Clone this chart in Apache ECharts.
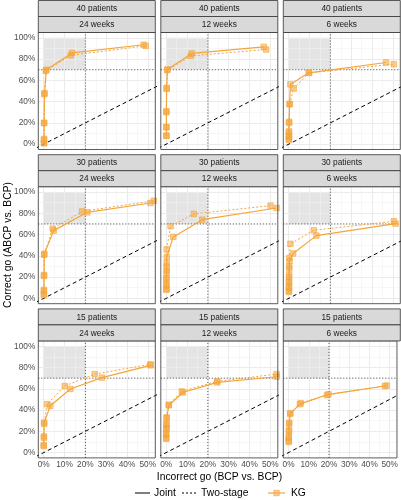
<!DOCTYPE html>
<html><head><meta charset="utf-8">
<script src="https://cdn.jsdelivr.net/npm/echarts@6/dist/echarts.min.js"></script>
<style>html,body{margin:0;padding:0;background:#fff}#c{width:401px;height:500px}</style>
</head><body><div id="c"></div>
<script>
const rowLabels = ['40 patients', '30 patients', '15 patients'];
const colLabels = ['24 weeks', '12 weeks', '6 weeks'];
const xTicks = [0, 10, 20, 30, 40, 50];
const yTicks = [0, 20, 40, 60, 80, 100];
const xMinor = [5, 15, 25, 35, 45];
const yMinor = [10, 30, 50, 70, 90];
const goRegion = [[0, 70], [20, 100]];
const refX = 20, refY = 70;
const diag = [[-10, -10], [110, 110]];

// [incorrect go %, correct go %]
const joint_40_24 = [[0.2,1],[0.2,5],[0.2,20],[0.4,48],[1.3,70],[13.6,85.8],[48,93.5]];
const two_40_24   = [[0.1,1],[0.1,4],[0.2,20],[0.3,47],[1.0,69],[13.0,83.5],[49,92.5]];
const joint_40_12 = [[0.1,8],[0.1,16],[0.1,31],[0.2,53],[0.6,70.3],[12.2,85.3],[46.9,91.5]];
const two_40_12   = [[0.1,8],[0.1,16],[0.1,30],[0.2,52],[0.5,69.5],[11.8,83],[48,89]];
const joint_40_6  = [[0.1,5],[0.1,8],[0.1,12],[0.2,21],[0.4,37.5],[0.8,56.2],[9.6,67.1],[46.8,76.8]];
const two_40_6    = [[0.1,4],[0.1,7],[0.1,11],[0.2,20],[0.5,38],[2.4,52.5],[9.8,67],[50.5,75.2]];
const joint_30_24 = [[0.1,3],[0.1,8],[0.2,22],[0.3,42],[4.8,63.7],[20.9,80.9],[51.3,89.7]];
const two_30_24   = [[0.1,4],[0.1,7],[0.1,21],[0.2,41],[4.3,65.6],[18.5,81.8],[52.9,91.8]];
const joint_30_12 = [[0.1,8],[0.1,12],[0.1,18],[0.2,24],[0.2,30],[0.3,39],[3.4,57.8],[17.3,74],[53,85]];
const two_30_12   = [[0.1,9],[0.1,13],[0.1,19],[0.2,26],[0.2,33],[0.2,46],[2.1,67.8],[13.3,79.4],[50.1,87.2]];
const joint_30_6  = [[0.1,6],[0.1,10],[0.2,15],[0.2,20],[0.3,28],[0.4,35],[2.1,42.2],[13.3,59],[51.3,70.3]];
const two_30_6    = [[0.1,7],[0.1,11],[0.1,16],[0.2,22],[0.2,30],[0.3,38],[0.8,51.3],[12,64],[50.5,72.5]];
const joint_15_24 = [[0,7],[0.1,15.2],[0.2,28.3],[3.2,44],[12.8,59.8],[28,70.5],[51.3,82]];
const two_15_24   = [[0,6],[0.1,14],[0.2,27],[1.6,45.5],[10.1,62.6],[24.5,73.8],[51.3,83]];
const joint_15_12 = [[0,13],[0,17],[0.1,22],[0.1,26],[0.2,32.4],[1.3,44.5],[8,56.5],[24.5,66],[53,71.3]];
const two_15_12   = [[0,14],[0,18],[0.1,23],[0.1,27],[0.2,33],[1.2,45],[7.5,57.5],[24.5,67],[53,73.8]];
const joint_15_6  = [[0.1,10],[0.1,14],[0.2,20],[0.3,27],[0.8,36.4],[5.6,45.5],[19.7,54.8],[47.6,62.6]];
const two_15_6    = [[0.1,11],[0.1,15],[0.2,21],[0.3,28],[0.9,37],[6,46.5],[19,54],[48.5,63]];

const jointPanels = [[joint_40_24, joint_40_12, joint_40_6],[joint_30_24, joint_30_12, joint_30_6],[joint_15_24, joint_15_12, joint_15_6]];
const twoPanels = [[two_40_24, two_40_12, two_40_6],[two_30_24, two_30_12, two_30_6],[two_15_24, two_15_12, two_15_6]];

const ORANGE = '#F4A53A';
const FONT = 'Liberation Sans, Arial, sans-serif';
const XMIN = -2.6, XMAX = 53.6, YMIN = -5, YMAX = 105;
const PL = 38.3, PW = 117, PSTEP = 122.5;
const PT = 32.5, PH = 117, RSTEP = 154.2, STRIP = 16;

const grids = [], xAxes = [], yAxes = [], series = [], graphics = [];
for (let r = 0; r < 3; r++) {
  for (let c = 0; c < 3; c++) {
    const i = r * 3 + c;
    const left = PL + c * PSTEP, top = PT + r * RSTEP;
    grids.push({left: left, top: top, width: PW, height: PH, show: true, borderColor: '#333', borderWidth: 0.8, backgroundColor: 'transparent', z: 10});
    xAxes.push({type: 'value', gridIndex: i, min: XMIN, max: XMAX,
      axisLine: {show: false}, splitLine: {show: false},
      axisTick: {show: r === 2, customValues: xTicks, length: 3, lineStyle: {color: '#333', width: 0.8}},
      axisLabel: {show: r === 2, customValues: xTicks, formatter: v => v + '%', color: '#4D4D4D', fontSize: 8.3, fontFamily: FONT, margin: 3}});
    yAxes.push({type: 'value', gridIndex: i, min: YMIN, max: YMAX,
      axisLine: {show: false}, splitLine: {show: false},
      axisTick: {show: c === 0, customValues: yTicks, length: 3, lineStyle: {color: '#333', width: 0.8}},
      axisLabel: {show: c === 0, customValues: yTicks, formatter: v => v + '%', color: '#4D4D4D', fontSize: 8.3, fontFamily: FONT, margin: 3}});
    // grid lines
    const gl = [];
    xTicks.forEach(x => gl.push({coords: [[x, YMIN], [x, YMAX]], lineStyle: {color: '#EBEBEB', width: 1}}));
    yTicks.forEach(y => gl.push({coords: [[XMIN, y], [XMAX, y]], lineStyle: {color: '#EBEBEB', width: 1}}));
    xMinor.forEach(x => gl.push({coords: [[x, YMIN], [x, YMAX]], lineStyle: {color: '#F2F2F2', width: 0.6}}));
    yMinor.forEach(y => gl.push({coords: [[XMIN, y], [XMAX, y]], lineStyle: {color: '#F2F2F2', width: 0.6}}));
    series.push({type: 'lines', coordinateSystem: 'cartesian2d', xAxisIndex: i, yAxisIndex: i, data: gl, silent: true, z: 1, lineStyle: {opacity: 1}});
    // shaded go region
    series.push({type: 'line', xAxisIndex: i, yAxisIndex: i, data: [], silent: true, z: 2,
      markArea: {silent: true, itemStyle: {color: '#E4E4E4'}, data: [[{coord: goRegion[0]}, {coord: goRegion[1]}]]}});
    // reference lines
    series.push({type: 'line', xAxisIndex: i, yAxisIndex: i, data: [[refX, YMIN], [refX, YMAX]], showSymbol: false, silent: true, z: 3,
      lineStyle: {color: '#444', width: 1, type: [1, 2]}});
    series.push({type: 'line', xAxisIndex: i, yAxisIndex: i, data: [[XMIN, refY], [XMAX, refY]], showSymbol: false, silent: true, z: 3,
      lineStyle: {color: '#444', width: 1, type: [1, 2]}});
    series.push({type: 'line', xAxisIndex: i, yAxisIndex: i, data: diag, showSymbol: false, silent: true, z: 3, clip: true,
      lineStyle: {color: '#000', width: 1, type: [4, 3]}});
    // data
    const sym = {symbol: 'rect', symbolSize: 5.5, showSymbol: true, itemStyle: {color: 'rgba(244,165,58,0.55)', borderColor: ORANGE, borderWidth: 0.6}};
    series.push(Object.assign({type: 'line', name: 'Two-stage', xAxisIndex: i, yAxisIndex: i, data: twoPanels[r][c], z: 5,
      lineStyle: {color: ORANGE, width: 1, type: [2, 2]}}, sym));
    series.push(Object.assign({type: 'line', name: 'Joint', xAxisIndex: i, yAxisIndex: i, data: jointPanels[r][c], z: 6,
      lineStyle: {color: ORANGE, width: 1.2}}, sym));
    // strips
    const sy = r * RSTEP + 0.5;
    [rowLabels[r], colLabels[c]].forEach((t, k) => {
      graphics.push({type: 'rect', shape: {x: left, y: sy + k * STRIP, width: PW, height: STRIP},
        style: {fill: '#D9D9D9', stroke: '#333', lineWidth: 0.8}, z: 20});
      graphics.push({type: 'text', x: left + PW / 2, y: sy + k * STRIP + STRIP / 2 + 0.5,
        style: {text: t, fill: '#1A1A1A', fontSize: 8.3, fontFamily: FONT, align: 'center', verticalAlign: 'middle'}, z: 21});
    });
  }
}
// axis titles
graphics.push({type: 'text', x: 219.5, y: 477, style: {text: 'Incorrect go (BCP vs. BCP)', fill: '#000', fontSize: 10.3, fontFamily: FONT, align: 'center', verticalAlign: 'middle'}});
graphics.push({type: 'text', x: 8, y: 245, rotation: Math.PI / 2, style: {text: 'Correct go (ABCP vs. BCP)', fill: '#000', fontSize: 10.3, fontFamily: FONT, align: 'center', verticalAlign: 'middle'}});
// legend
const LY = 493;
graphics.push({type: 'line', shape: {x1: 135, y1: LY, x2: 150, y2: LY}, style: {stroke: '#000', lineWidth: 1}});
graphics.push({type: 'text', x: 154, y: LY, style: {text: 'Joint', fill: '#000', fontSize: 10.3, fontFamily: FONT, verticalAlign: 'middle'}});
graphics.push({type: 'line', shape: {x1: 182, y1: LY, x2: 197, y2: LY}, style: {stroke: '#000', lineWidth: 1, lineDash: [2, 2]}});
graphics.push({type: 'text', x: 201, y: LY, style: {text: 'Two-stage', fill: '#000', fontSize: 10.3, fontFamily: FONT, verticalAlign: 'middle'}});
graphics.push({type: 'line', shape: {x1: 268, y1: LY, x2: 285, y2: LY}, style: {stroke: ORANGE, lineWidth: 1.2}});
graphics.push({type: 'rect', shape: {x: 273.8, y: LY - 2.75, width: 5.5, height: 5.5}, style: {fill: 'rgba(244,165,58,0.55)', stroke: ORANGE, lineWidth: 0.6}});
graphics.push({type: 'text', x: 291, y: LY, style: {text: 'KG', fill: '#000', fontSize: 10.3, fontFamily: FONT, verticalAlign: 'middle'}});

const chart = echarts.init(document.getElementById('c'), null, {renderer: 'canvas'});
chart.setOption({animation: false, grid: grids, xAxis: xAxes, yAxis: yAxes, series: series, graphic: graphics});
</script></body></html>
